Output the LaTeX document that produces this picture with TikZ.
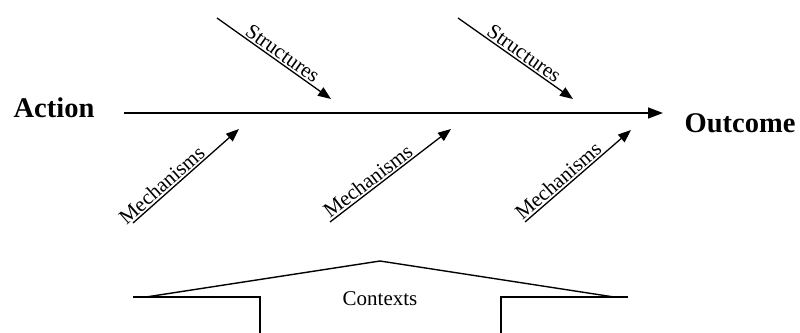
\documentclass[tikz,border=0pt]{standalone}
\usepackage{fontspec}
\setmainfont{Liberation Serif}
\usetikzlibrary{arrows.meta}
\begin{document}
\begin{tikzpicture}[x=1pt,y=-1pt,
  bigarrow/.style={line width=1.4pt,-{Triangle[length=15pt,width=11pt]}},
  smallarrow/.style={line width=1.3pt,-{Triangle[length=13pt,width=10pt]}},
  endlabel/.style={font=\fontsize{28.5}{31}\selectfont\bfseries,inner sep=0pt},
  branchlabel/.style={font=\fontsize{21}{23}\selectfont,sloped,above,inner sep=1.5pt},
  ctx/.style={line width=1.4pt,line join=miter}]
\useasboundingbox (0,0) rectangle (800,332);
\node[endlabel] (act) at (54,108) {Action};
\node[endlabel] (out) at (740,123) {Outcome};
\coordinate (ms) at (124,113);
\coordinate (me) at (663,113);
\draw[bigarrow] (ms) -- (me);
% structures
\coordinate (s1a) at (217,18); \coordinate (s1b) at (331,99);
\coordinate (s2a) at (458,18); \coordinate (s2b) at (573,99);
\draw[smallarrow] (s1a) -- node[branchlabel,pos=0.53] (s1l) {Structures} (s1b);
\draw[smallarrow] (s2a) -- node[branchlabel,pos=0.53] (s2l) {Structures} (s2b);
% mechanisms
\coordinate (m1a) at (133,223); \coordinate (m1b) at (239,129);
\coordinate (m2a) at (330,222); \coordinate (m2b) at (451,129);
\coordinate (m3a) at (525,222); \coordinate (m3b) at (631,130);
\draw[smallarrow] (m1a) -- node[branchlabel,pos=0.33] (m1l) {Mechanisms} (m1b);
\draw[smallarrow] (m2a) -- node[branchlabel,pos=0.36] (m2l) {Mechanisms} (m2b);
\draw[smallarrow] (m3a) -- node[branchlabel,pos=0.37] (m3l) {Mechanisms} (m3b);
% contexts
\coordinate (cl) at (133,297); \coordinate (cr) at (628,297);
\coordinate (cp) at (380,261);
\draw[ctx] (260,333) -- (260,297) -- (cl);
\draw[ctx] (501,333) -- (501,297) -- (cr);
\draw[ctx] (146,297) -- (cp) -- (614,297);
\node[font=\fontsize{21}{23}\selectfont,anchor=base,inner sep=0pt] (ctxl) at (380,305) {Contexts};
\end{tikzpicture}
\end{document}
